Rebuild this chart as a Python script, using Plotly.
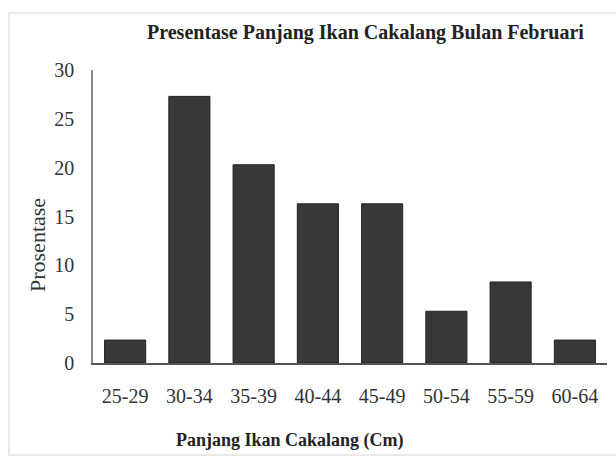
import plotly.graph_objects as go

# Length classes (cm) and share of catch (%) for February
length_classes = ["25-29", "30-34", "35-39", "40-44", "45-49", "50-54", "55-59", "60-64"]
percentages = [2.35, 27.3, 20.3, 16.3, 16.3, 5.3, 8.3, 2.35]
y_ticks = [0, 5, 10, 15, 20, 25, 30]

W, H = 616, 457
L, R, T, B = 93, 9, 70, 94
PW, PH = W - L - R, H - T - B


def px_x(px):
    return (px - L) / PW


def px_y(py):
    return (H - B - py) / PH


SERIF = "Liberation Serif, Times New Roman, serif"

fig = go.Figure(
    go.Bar(
        x=length_classes,
        y=percentages,
        marker=dict(color="#3a3737", line=dict(color="#262424", width=1)),
        hoverinfo="x+y",
    )
)

fig.update_layout(
    width=W,
    height=H,
    margin=dict(l=L, r=R, t=T, b=B, pad=0),
    paper_bgcolor="white",
    plot_bgcolor="white",
    bargap=0.36,
    showlegend=False,
    font=dict(family=SERIF, color="#333333"),
)

fig.update_xaxes(
    type="category",
    range=[-0.5, 7.5],
    showgrid=False,
    zeroline=False,
    showline=True,
    linecolor="#555555",
    linewidth=2,
    ticks="",
    tickfont=dict(family=SERIF, size=20, color="#333333"),
    ticklabelstandoff=14,
)

fig.update_yaxes(
    range=[0, 30],
    tickvals=y_ticks,
    showgrid=False,
    zeroline=False,
    showline=True,
    linecolor="#8a8a8a",
    linewidth=1.5,
    ticks="",
    tickfont=dict(family=SERIF, size=20, color="#333333"),
    ticklabelstandoff=13,
)

annotations = [
    dict(
        text="<b>Presentase Panjang Ikan Cakalang Bulan Februari</b>",
        x=px_x(365), y=px_y(33),
        font=dict(family=SERIF, size=20, color="#222222"),
    ),
    dict(
        text="<b>Panjang Ikan Cakalang (Cm)</b>",
        x=px_x(290), y=px_y(440),
        font=dict(family=SERIF, size=18, color="#222222"),
    ),
    dict(
        text="Prosentase",
        x=px_x(37), y=px_y(245),
        textangle=-90,
        font=dict(family=SERIF, size=22, color="#333333"),
    ),
]
for a in annotations:
    a.update(xref="paper", yref="paper", showarrow=False,
             xanchor="center", yanchor="middle")
fig.update_layout(annotations=annotations)

# light outer frame around the chart
fig.add_shape(
    type="rect", xref="paper", yref="paper",
    x0=px_x(9), x1=px_x(620), y0=px_y(455), y1=px_y(13),
    line=dict(color="#e2e2e2", width=1.5),
    fillcolor="rgba(0,0,0,0)", layer="below",
)

fig.write_html("out.html")
